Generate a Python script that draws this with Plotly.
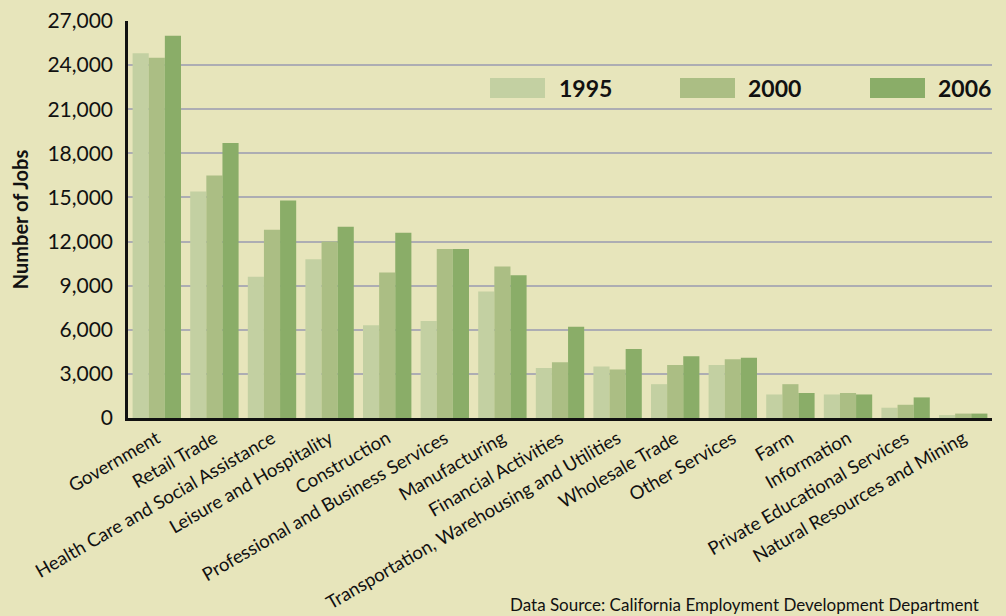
import plotly.graph_objects as go

categories = ["Government", "Retail Trade", "Health Care and Social Assistance",
              "Leisure and Hospitality", "Construction", "Professional and Business Services",
              "Manufacturing", "Financial Activities", "Transportation, Warehousing and Utilities",
              "Wholesale Trade", "Other Services", "Farm", "Information",
              "Private Educational Services", "Natural Resources and Mining"]
years = ["1995", "2000", "2006"]
jobs_1995 = [24800, 15400, 9600, 10800, 6300, 6600, 8600, 3400, 3500, 2300, 3600, 1600, 1600, 700, 200]
jobs_2000 = [24500, 16500, 12800, 12000, 9900, 11500, 10300, 3800, 3300, 3600, 4000, 2300, 1700, 900, 300]
jobs_2006 = [26000, 18700, 14800, 13000, 12600, 11500, 9700, 6200, 4700, 4200, 4100, 1700, 1600, 1400, 300]
series = [jobs_1995, jobs_2000, jobs_2006]
colors = ["#c3d0a2", "#abbe84", "#8aad68"]
y_ticks = list(range(0, 27001, 3000))

FONT = "Lato"
BG = "#e7e5bb"

fig = go.Figure()
for name, vals, col in zip(years, series, colors):
    fig.add_trace(go.Bar(x=categories, y=vals, name=name, marker_color=col,
                         marker_line_width=0, showlegend=False))

# custom legend (wide swatches)
L = 128; R = 992; T = 21; B = 418
W = R - L; H = B - T
def px(x): return (x - L) / W
def py(y): return (B - y) / H
legend_pos = [(490, 557), (680, 746), (870, 936)]
for (sx, tx), name, col in zip(legend_pos, years, colors):
    fig.add_shape(type="rect", xref="paper", yref="paper",
                  x0=px(sx), x1=px(sx + 55), y0=py(98), y1=py(78),
                  fillcolor=col, line_width=0)
    fig.add_annotation(xref="paper", yref="paper", x=px(tx), y=py(88),
                       text="<b>%s</b>" % name, showarrow=False,
                       xanchor="left", yanchor="middle",
                       font=dict(family=FONT, size=23, color="#111"))

fig.add_annotation(xref="paper", yref="paper", x=px(508), y=py(592),
                   text="Data Source: California Employment Development Department",
                   showarrow=False, xanchor="left", yanchor="top",
                   font=dict(family=FONT, size=17, color="#111"))

fig.update_layout(
    width=1006, height=616,
    margin=dict(l=L, r=1006 - R, t=T, b=616 - B, autoexpand=False),
    paper_bgcolor=BG, plot_bgcolor=BG,
    barmode="group", bargap=0.16, bargroupgap=0,
    font=dict(family=FONT, color="#111"),
    xaxis=dict(tickangle=-30, tickfont=dict(size=18.5), showline=True,
               linecolor="#111", linewidth=2.5, ticks="", showgrid=False,
               automargin=False),
    yaxis=dict(range=[0, 27000], tickvals=y_ticks,
               ticktext=["{:,}".format(v) for v in y_ticks],
               tickfont=dict(size=21), showline=True, linecolor="#111", linewidth=2.5,
               showgrid=True, gridcolor="#adadb3", gridwidth=1.5, zeroline=False,
               ticks="", ticklabelstandoff=8, automargin=False,
               title=dict(text="<b>Number of Jobs</b>", font=dict(size=20), standoff=14)),
)
fig.write_html("out.html", config={"displayModeBar": False},
               post_script="document.body.style.margin='0';document.body.style.background='%s';" % BG)
